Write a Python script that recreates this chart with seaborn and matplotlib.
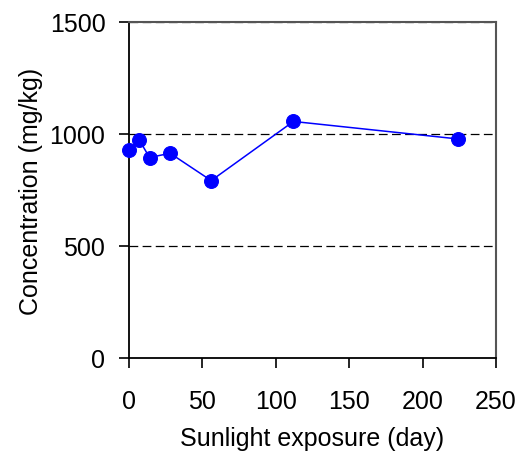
import matplotlib
matplotlib.use("Agg")
import matplotlib.pyplot as plt
import seaborn as sns
import pandas as pd

# Concentration over sunlight exposure
days = [0, 7, 14, 28, 56, 112, 224]
concentration = [930, 973, 895, 914, 792, 1056, 978]
x_ticks = [0, 50, 100, 150, 200, 250]
y_ticks = [0, 500, 1000, 1500]

df = pd.DataFrame({"day": days, "conc": concentration})

sns.set_style("white")
plt.rcParams["font.family"] = ["Liberation Sans", "DejaVu Sans"]
plt.rcParams["text.color"] = "black"
plt.rcParams["axes.labelcolor"] = "black"
plt.rcParams["xtick.color"] = "black"
plt.rcParams["ytick.color"] = "black"

fig = plt.figure(figsize=(5.18, 4.56), dpi=100)
ax = fig.add_axes([129 / 518, 1 - 359 / 456, (496 - 129) / 518, (359 - 23) / 456])

# dashed reference lines at the major y ticks
for yv in y_ticks[1:]:
    ax.axhline(yv, color="black", lw=0.9, ls=(0, (7, 3.5)), zorder=1)

sns.lineplot(data=df, x="day", y="conc", ax=ax, color="#0000ff", lw=1.1,
             marker="o", markersize=10, markeredgecolor="#0000ff",
             markerfacecolor="#0000ff", zorder=3, clip_on=False)

ax.set_xlim(0, 250)
ax.set_ylim(0, 1500)
ax.set_xticks(x_ticks)
ax.set_yticks(y_ticks)
ax.tick_params(axis="both", direction="out", length=7, width=1.2,
               colors="black", labelsize=18, left=True, bottom=True)
ax.tick_params(axis="x", pad=15)
ax.tick_params(axis="y", pad=10)
ax.set_xlabel("Sunlight exposure (day)", fontsize=18, labelpad=10)
ax.set_ylabel("Concentration (mg/kg)", fontsize=18, labelpad=5)

for side in ["left", "bottom"]:
    ax.spines[side].set_color("black")
    ax.spines[side].set_linewidth(1.3)
for side in ["top", "right"]:
    ax.spines[side].set_visible(True)
    ax.spines[side].set_color("#555555")
    ax.spines[side].set_linewidth(1.5)

fig.savefig("out.png", dpi=100)
